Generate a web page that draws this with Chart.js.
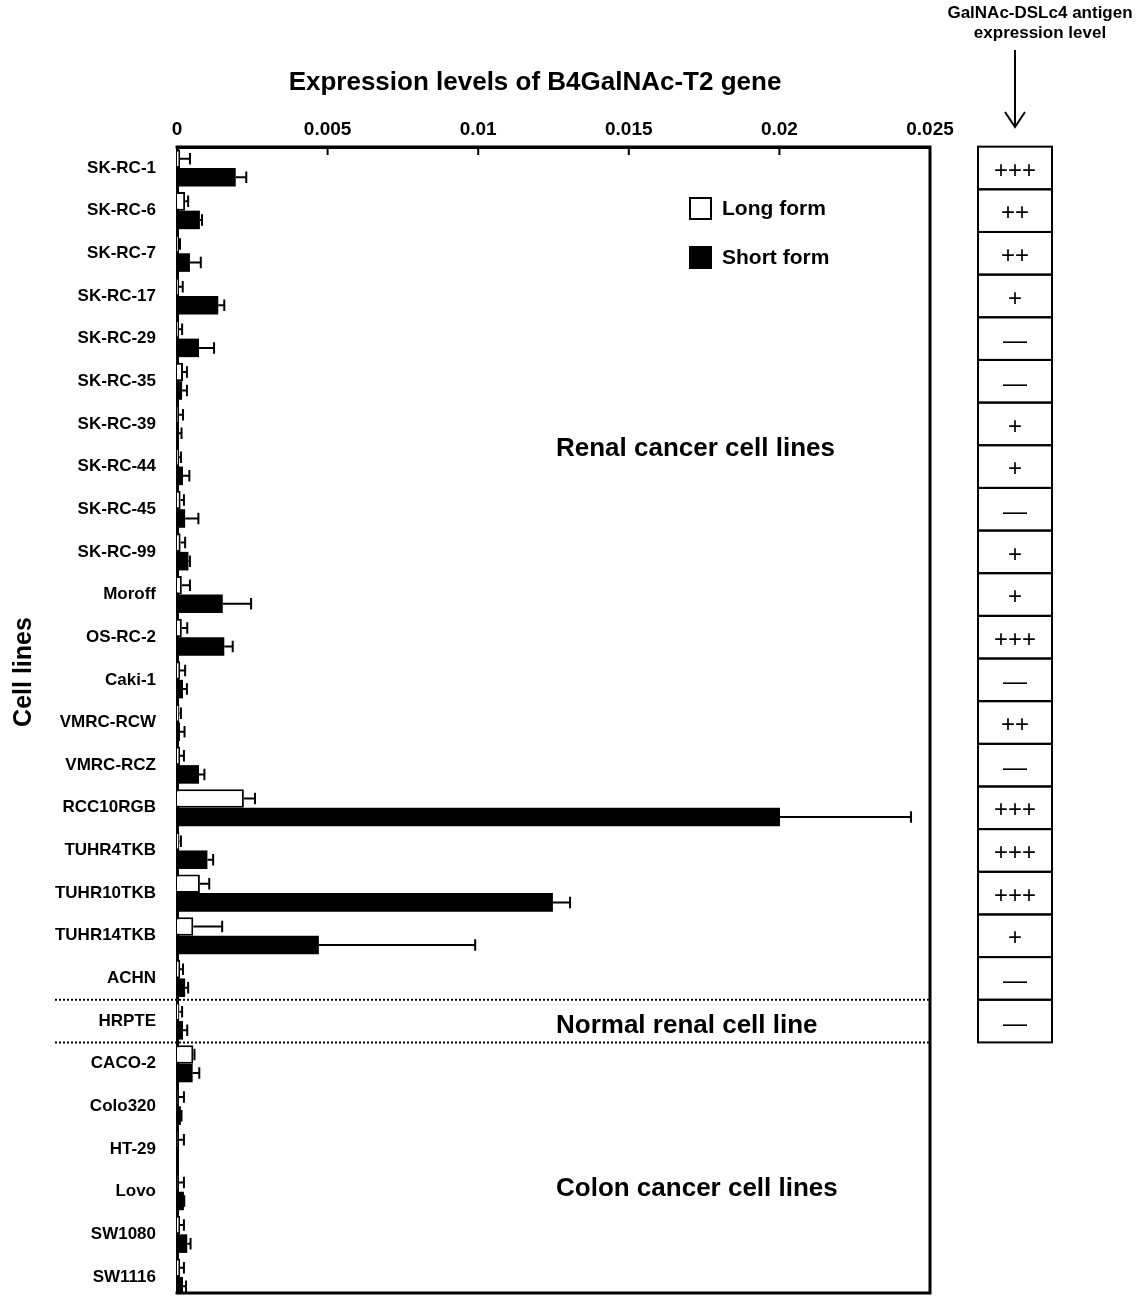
<!DOCTYPE html>
<html><head><meta charset="utf-8">
<script src="https://cdn.jsdelivr.net/npm/chart.js@4/dist/chart.umd.min.js"></script>
<style>html,body{margin:0;padding:0;background:#fff}canvas{display:block}</style>
</head><body>
<canvas id="c" width="1138" height="1297"></canvas>
<script>
const cellLines = ['SK-RC-1','SK-RC-6','SK-RC-7','SK-RC-17','SK-RC-29','SK-RC-35','SK-RC-39','SK-RC-44','SK-RC-45','SK-RC-99','Moroff','OS-RC-2','Caki-1','VMRC-RCW','VMRC-RCZ','RCC10RGB','TUHR4TKB','TUHR10TKB','TUHR14TKB','ACHN','HRPTE','CACO-2','Colo320','HT-29','Lovo','SW1080','SW1116'];
const longForm  = [0.0001,0.00027,0.00005,0.00005,0.00005,0.0002,0.00003,0.00005,0.00012,0.00012,0.00016,0.00016,0.0001,0.00008,0.0001,0.00222,0.00008,0.00076,0.00054,0.0001,0.00008,0.00054,0.00002,0.00002,0.00002,0.0001,0.0001];
const longErr   = [0.00033,0.0001,0.00005,0.00014,0.00012,0.00013,0.00017,0.00008,0.00011,0.00015,0.00027,0.00018,0.00017,0.00005,0.00013,0.00037,0.00005,0.00031,0.00096,0.0001,0.00009,0.00004,0.00021,0.00021,0.00021,0.00013,0.00013];
const shortForm = [0.00195,0.00076,0.00043,0.00137,0.00073,0.00017,0.00005,0.0002,0.00027,0.00038,0.00152,0.00157,0.0002,0.0001,0.00073,0.02002,0.00101,0.01248,0.00471,0.00027,0.0002,0.00052,0.00013,0.00003,0.00023,0.00034,0.0002];
const shortErr  = [0.00035,0.00007,0.00036,0.0002,0.0005,0.00016,0.0001,0.00021,0.00044,0.00005,0.00094,0.00028,0.00013,0.00015,0.00018,0.00435,0.00019,0.00057,0.00519,0.0001,0.00014,0.00022,0.00002,0,0.00001,0.00011,0.0001];
const antigenLevel = ['+++','++','++','+','—','—','+','+','—','+','+','+++','—','++','—','+++','+++','+++','+','—','—'];
const xTickValues = [0,0.005,0.01,0.015,0.02,0.025];
const xTickLabels = ['0','0.005','0.01','0.015','0.02','0.025'];
const groupLabels = ['Renal cancer cell lines','Normal renal cell line','Colon cancer cell lines'];

const FONT = '"Liberation Sans", Arial, Helvetica, sans-serif';
const Y_MIN = -0.492, Y_MAX = 26.375;

const overlay = {
  id: 'overlay',
  afterDatasetsDraw(chart) {
    const ctx = chart.ctx, xs = chart.scales.x;
    const errs = [longErr, shortErr];
    chart.data.datasets.forEach((ds, di) => {
      const meta = chart.getDatasetMeta(di);
      meta.data.forEach((bar, i) => {
        const e = errs[di][i];
        if (!e) return;
        const v = ds.data[i].x;
        const x0 = xs.getPixelForValue(v), x1 = xs.getPixelForValue(v + e);
        const capH = bar.height * 0.62;
        ctx.save();
        ctx.strokeStyle = '#000'; ctx.lineWidth = 2;
        ctx.beginPath();
        ctx.moveTo(x0, bar.y); ctx.lineTo(x1, bar.y);
        ctx.moveTo(x1, bar.y - capH / 2); ctx.lineTo(x1, bar.y + capH / 2);
        ctx.stroke();
        ctx.restore();
      });
    });
  },
  afterDraw(chart) {
    const ctx = chart.ctx, a = chart.chartArea, xs = chart.scales.x, ys = chart.scales.y;
    ctx.save();
    ctx.strokeStyle = '#000';
    // plot frame
    ctx.lineWidth = 3;
    ctx.beginPath();
    ctx.moveTo(a.left - 1.5, a.top); ctx.lineTo(a.right, a.top); ctx.lineTo(a.right, a.bottom); ctx.lineTo(a.left - 1.5, a.bottom);
    ctx.stroke();
    // inner ticks
    ctx.lineWidth = 2;
    ctx.beginPath();
    xTickValues.slice(1, -1).forEach(v => {
      const x = xs.getPixelForValue(v);
      ctx.moveTo(x, a.top); ctx.lineTo(x, a.top + 8);
    });
    ctx.stroke();
    // dotted separators
    ctx.setLineDash([2, 2]);
    ctx.lineWidth = 2;
    [19.5, 20.5].forEach(v => {
      const y = ys.getPixelForValue(v);
      ctx.beginPath(); ctx.moveTo(55, y); ctx.lineTo(a.right, y); ctx.stroke();
    });
    ctx.setLineDash([]);
    ctx.fillStyle = '#000';
    // title
    ctx.font = 'bold 26px ' + FONT;
    ctx.textAlign = 'center'; ctx.textBaseline = 'middle';
    ctx.fillText('Expression levels of B4GalNAc-T2 gene', 535, 83);
    // y title
    ctx.save();
    ctx.translate(24, 672); ctx.rotate(-Math.PI / 2);
    ctx.font = 'bold 25px ' + FONT;
    ctx.fillText('Cell lines', 0, 0);
    ctx.restore();
    // group labels
    ctx.font = 'bold 26px ' + FONT;
    ctx.textAlign = 'left';
    ctx.fillText(groupLabels[0], 556, 449);
    ctx.fillText(groupLabels[1], 556, ys.getPixelForValue(20) + 5);
    ctx.fillText(groupLabels[2], 556, 1189);
    // legend
    chart.data.datasets.forEach((ds, di) => {
      const yc = 209 + di * 49;
      ctx.fillStyle = ds.backgroundColor;
      ctx.fillRect(690, yc - 11, 21, 21);
      ctx.lineWidth = 2; ctx.strokeStyle = '#000';
      ctx.strokeRect(690, yc - 11, 21, 21);
      ctx.fillStyle = '#000';
      ctx.font = 'bold 21px ' + FONT;
      ctx.textAlign = 'left';
      ctx.fillText(ds.label, 722, yc);
    });
    // antigen table
    ctx.lineWidth = 2;
    antigenLevel.forEach((t, i) => {
      const y0 = ys.getPixelForValue(i - 0.5), y1 = ys.getPixelForValue(i + 0.5);
      ctx.strokeRect(978, y0, 74, y1 - y0);
      ctx.font = '24px ' + FONT;
      ctx.textAlign = 'center';
      ctx.fillText(t, 1015, (y0 + y1) / 2 + 3);
    });
    // header + arrow
    ctx.font = 'bold 17px ' + FONT;
    ctx.textAlign = 'center';
    ctx.fillText('GalNAc-DSLc4 antigen', 1040, 13);
    ctx.fillText('expression level', 1040, 33);
    ctx.lineWidth = 2;
    ctx.beginPath();
    ctx.moveTo(1015, 50); ctx.lineTo(1015, 127);
    ctx.moveTo(1005, 112); ctx.lineTo(1015, 127); ctx.lineTo(1025, 112);
    ctx.stroke();
    ctx.restore();
  }
};

new Chart(document.getElementById('c'), {
  type: 'bar',
  data: {
    datasets: [
      { label: 'Long form', data: cellLines.map((c, i) => ({ x: longForm[i], y: i })), backgroundColor: '#fff', borderColor: '#000', borderWidth: 2 },
      { label: 'Short form', data: cellLines.map((c, i) => ({ x: shortForm[i], y: i })), backgroundColor: '#000', borderColor: '#000', borderWidth: 0 }
    ]
  },
  options: {
    indexAxis: 'y',
    responsive: false,
    animation: false,
    layout: { padding: { left: 0, top: 0, right: 208, bottom: 4 } },
    datasets: { bar: { categoryPercentage: 0.87, barPercentage: 1 } },
    plugins: { legend: { display: false }, tooltip: { enabled: false }, title: { display: false } },
    scales: {
      x: {
        type: 'linear', position: 'top', min: 0, max: 0.025,
        grid: { display: false },
        border: { display: true, width: 3, color: '#000' },
        ticks: { autoSkip: false, color: '#000', padding: -2, maxRotation: 0, font: { family: FONT, size: 19, weight: 'bold' },
                 callback: (v, i) => xTickLabels[i] },
        afterBuildTicks: s => { s.ticks = xTickValues.map(v => ({ value: v })); },
        afterFit: s => { s.height = 147; s.paddingTop = 0; s.paddingBottom = 0; }
      },
      y: {
        type: 'linear', reverse: true, offset: false, min: Y_MIN, max: Y_MAX,
        grid: { display: false, offset: false },
        border: { display: true, width: 3, color: '#000' },
        ticks: { autoSkip: false, color: '#000', padding: 13, font: { family: FONT, size: 17, weight: 'bold' },
                 callback: v => cellLines[v] ?? '' },
        afterBuildTicks: s => { s.ticks = cellLines.map((c, i) => ({ value: i })); },
        afterFit: s => { s.width = 177; s.paddingTop = 0; s.paddingBottom = 0; }
      }
    }
  },
  plugins: [overlay]
});
</script>
</body></html>
